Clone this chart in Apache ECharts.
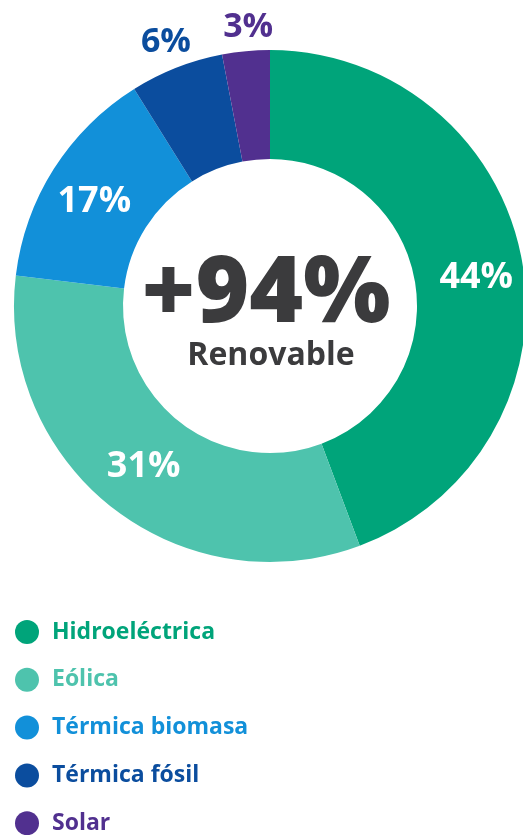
<!DOCTYPE html>
<html>
<head>
<meta charset="utf-8">
<style>
html,body{margin:0;padding:0;background:#fff;}
#c{width:523px;height:835px;}
</style>
<script src="https://cdn.jsdelivr.net/npm/echarts@6/dist/echarts.min.js"></script>
</head>
<body>
<div id="c"></div>
<script>
const categories = ['Hidroeléctrica', 'Eólica', 'Térmica biomasa', 'Térmica fósil', 'Solar'];
const shares = [44.3, 32.6, 14.2, 5.9, 3.0];
const shareLabels = ['44%', '31%', '17%', '6%', '3%'];
const colors = ['#00a47a', '#4ec3ad', '#1290d9', '#0b4d9e', '#51308f'];
const centerValue = '+94%';
const centerCaption = 'Renovable';

const FONT = '"Open Sans", sans-serif';
const insideIdx = [0, 1, 2];

const chart = echarts.init(document.getElementById('c'), null, {renderer: 'canvas'});

const ringData = categories.map((n, i) => ({
  name: n, value: shares[i], itemStyle: {color: colors[i]}
}));
const outerData = categories.map((n, i) => ({
  name: n, value: shares[i],
  itemStyle: {color: 'rgba(0,0,0,0)'},
  label: {show: !insideIdx.includes(i), color: colors[i]}
}));

chart.setOption({
  animation: false,
  legend: {
    orient: 'vertical',
    left: 10,
    top: 615,
    height: 220,
    icon: 'circle',
    itemWidth: 24,
    itemHeight: 24,
    itemGap: 23.8,
    selectedMode: false,
    data: categories.map((n, i) => ({
      name: n,
      itemStyle: {color: colors[i]},
      textStyle: {color: colors[i]}
    })),
    textStyle: {fontFamily: FONT, fontWeight: 'bold', fontSize: 23, padding: [0, 0, 0, 8]}
  },
  graphic: [
    {type: 'text', x: 266, y: 296, style: {text: centerValue, fill: '#3b3b3d', font: '800 92px ' + FONT, textAlign: 'center', textVerticalAlign: 'middle'}},
    {type: 'text', x: 271, y: 356, style: {text: centerCaption, fill: '#3b3b3d', font: 'bold 32px ' + FONT, textAlign: 'center', textVerticalAlign: 'middle'}}
  ],
  series: [
    {
      type: 'pie',
      center: [270, 306],
      radius: [147, 256],
      startAngle: 90,
      clockwise: true,
      silent: true,
      avoidLabelOverlap: false,
      label: {
        show: true,
        position: 'inside',
        color: '#ffffff',
        fontFamily: FONT,
        fontWeight: 'bold',
        fontSize: 36,
        formatter: p => insideIdx.includes(p.dataIndex) ? shareLabels[p.dataIndex] : ''
      },
      labelLayout: p => p.dataIndex === 0 ? {dx: 5, dy: 8} : (p.dataIndex === 2 ? {dx: -3, dy: 5} : {}),
      labelLine: {show: false},
      data: ringData
    },
    {
      type: 'pie',
      center: [270, 306],
      radius: [266, 298],
      startAngle: 90,
      clockwise: true,
      silent: true,
      avoidLabelOverlap: false,
      label: {
        position: 'inside',
        fontFamily: FONT,
        fontWeight: 'bold',
        fontSize: 34,
        formatter: p => shareLabels[p.dataIndex]
      },
      labelLayout: p => p.dataIndex === 4 ? {dx: 5, dy: 5} : {dy: 2},
      labelLine: {show: false},
      data: outerData
    }
  ]
});
</script>
</body>
</html>
